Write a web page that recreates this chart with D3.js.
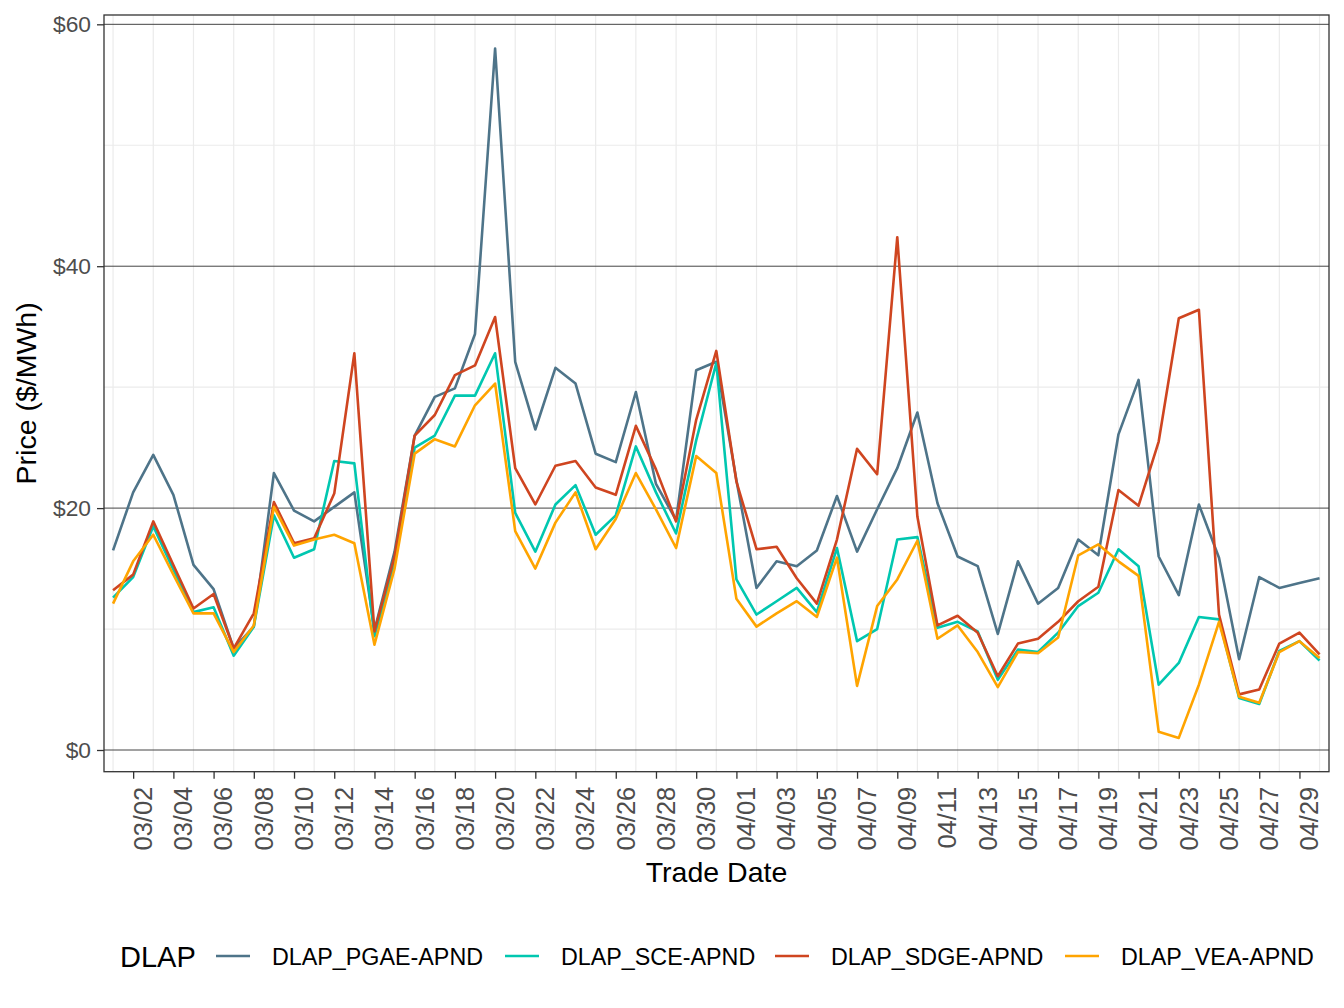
<!DOCTYPE html>
<html><head><meta charset="utf-8">
<script src="https://cdn.jsdelivr.net/npm/d3@7"></script>
<style>
body{margin:0;background:#fff;}
text{font-family:"Liberation Sans",Arial,Helvetica,sans-serif;}
</style>
</head><body>
<svg id="chart" width="1344" height="1008"></svg>
<script>
// ---- data ----
const firstDate = "2020-03-01";
const lastDate = "2020-04-30";
const seriesNames = ["DLAP_PGAE-APND", "DLAP_SCE-APND", "DLAP_SDGE-APND", "DLAP_VEA-APND"];
const seriesColors = ["#4E7489", "#00C7B0", "#CF4520", "#FFA400"];
const pgae = [16.5,21.3,24.4,21.1,15.3,13.3,8.4,10.2,22.9,19.8,18.9,20.1,21.3,9.9,16.4,26.0,29.2,29.9,34.4,58.0,32.1,26.5,31.6,30.3,24.5,23.8,29.6,22.0,19.0,31.4,32.1,22.3,13.4,15.6,15.2,16.5,21.0,16.4,19.9,23.3,27.9,20.4,16.0,15.2,9.6,15.6,12.1,13.4,17.4,16.1,26.1,30.6,16.0,12.8,20.3,15.9,7.5,14.3,13.4,13.8,14.2];
const sce  = [12.6,14.3,18.5,14.9,11.4,11.8,7.8,10.2,19.4,15.9,16.6,23.9,23.7,9.4,15.5,25.0,26.0,29.3,29.3,32.8,19.6,16.4,20.3,21.9,17.8,19.4,25.1,21.3,17.9,25.6,32.0,14.1,11.2,12.3,13.4,11.4,16.7,9.0,10.0,17.4,17.6,10.1,10.6,9.8,5.8,8.3,8.1,9.7,11.9,13.0,16.6,15.2,5.4,7.2,11.0,10.8,4.3,3.8,8.2,9.0,7.4];
const sdge = [13.2,14.5,18.9,15.3,11.7,12.9,8.4,11.3,20.5,17.1,17.5,21.2,32.8,9.8,16.0,26.0,27.7,31.0,31.8,35.8,23.3,20.3,23.5,23.9,21.7,21.1,26.8,23.2,18.9,27.3,33.0,22.2,16.6,16.8,14.2,12.1,17.4,24.9,22.8,42.4,19.3,10.3,11.1,9.7,6.1,8.8,9.2,10.6,12.3,13.5,21.5,20.2,25.5,35.7,36.4,11.2,4.6,5.0,8.8,9.7,7.9];
const vea  = [12.1,15.6,17.8,14.5,11.3,11.3,8.1,10.3,20.1,16.9,17.4,17.8,17.1,8.7,15.0,24.5,25.7,25.1,28.5,30.3,18.1,15.0,18.8,21.3,16.6,19.1,22.9,19.9,16.7,24.3,22.9,12.5,10.2,11.3,12.3,11.0,15.9,5.3,11.9,14.1,17.3,9.2,10.3,8.1,5.2,8.1,8.0,9.3,16.1,17.0,15.6,14.4,1.5,1.0,5.4,10.6,4.4,3.9,8.1,9.0,7.6];
const yTicks = [0, 20, 40, 60];
const yMinor = [10, 30, 50];

// ---- layout ----
const svg = d3.select("#chart");
const P = {l:104, r:1329, t:15, b:771.7};
const d0 = new Date(firstDate + "T00:00:00Z");
const d1 = new Date(lastDate + "T00:00:00Z");
const dates = d3.utcDay.range(d0, d3.utcDay.offset(d1, 1));
const x = d3.scaleUtc()
  .domain([new Date(+d0 - 0.45*864e5), new Date(+d1 + 0.47*864e5)])
  .range([P.l, P.r]);
const y = d3.scaleLinear().domain([-1.794, 60.77]).range([P.b, P.t]);

const tickDates = dates.filter((d,i) => i % 2 === 1);
const gridDates = dates.filter((d,i) => i % 2 === 0);

const g = svg.append("g");
g.selectAll(".vg").data(gridDates).enter().append("line")
  .attr("x1", d=>x(d)).attr("x2", d=>x(d)).attr("y1", P.t).attr("y2", P.b)
  .attr("stroke", "#EBEBEB").attr("stroke-width", 1.2);
g.selectAll(".mg").data(yMinor).enter().append("line")
  .attr("x1", P.l).attr("x2", P.r).attr("y1", d=>y(d)).attr("y2", d=>y(d))
  .attr("stroke", "#EBEBEB").attr("stroke-width", 1.2);
g.selectAll(".hg").data(yTicks).enter().append("line")
  .attr("x1", P.l).attr("x2", P.r).attr("y1", d=>y(d)).attr("y2", d=>y(d))
  .attr("stroke", "#444444").attr("stroke-width", 1);

// lines
const series = [pgae, sce, sdge, vea];
const line = d3.line().x((d,i)=>x(dates[i])).y(d=>y(d));
series.forEach((s, k) => {
  svg.append("path").datum(s).attr("d", line)
    .attr("fill", "none").attr("stroke", seriesColors[k])
    .attr("stroke-width", 2.6).attr("stroke-linejoin", "round").attr("stroke-linecap", "butt");
});

// panel border
svg.append("rect").attr("x", P.l).attr("y", P.t).attr("width", P.r-P.l).attr("height", P.b-P.t)
  .attr("fill", "none").attr("stroke", "#333333").attr("stroke-width", 1.3);

// y axis
const yAxis = svg.append("g").attr("transform", `translate(${P.l},0)`)
  .call(d3.axisLeft(y).tickValues(yTicks).tickSize(7).tickPadding(6).tickFormat(d => "$" + d));
yAxis.select(".domain").remove();
yAxis.selectAll(".tick line").attr("stroke", "#333333").attr("stroke-width", 1.3);
yAxis.selectAll(".tick text").attr("fill", "#4D4D4D").style("font-size", "22.8px")
  .style("font-family", '"Liberation Sans",Arial,sans-serif');

// x axis
const xAxis = svg.append("g").attr("transform", `translate(0,${P.b})`)
  .call(d3.axisBottom(x).tickValues(tickDates).tickSize(7).tickFormat(d3.utcFormat("%m/%d")));
xAxis.select(".domain").remove();
xAxis.selectAll(".tick line").attr("stroke", "#333333").attr("stroke-width", 1.3);
xAxis.selectAll(".tick text")
  .attr("fill", "#4D4D4D").style("font-size", "25.5px")
  .style("font-family", '"Liberation Sans",Arial,sans-serif')
  .attr("text-anchor", "end")
  .attr("transform", "rotate(-90)")
  .attr("x", -15).attr("y", 0).attr("dy", "0.72em");

// axis titles
svg.append("text").attr("x", (P.l+P.r)/2).attr("y", 882).attr("text-anchor", "middle")
  .style("font-size", "28.5px").attr("fill", "#000").text("Trade Date");
svg.append("text").attr("transform", `translate(36,${(P.t+P.b)/2}) rotate(-90)`)
  .attr("text-anchor", "middle").style("font-size", "28.5px").attr("fill", "#000").text("Price ($/MWh)");

// legend
const leg = svg.append("g");
leg.append("text").attr("x", 120).attr("y", 967).style("font-size", "29px").attr("fill", "#000").text("DLAP");
const keyX = [216, 505, 775, 1065];
seriesNames.forEach((n, k) => {
  leg.append("line").attr("x1", keyX[k]).attr("x2", keyX[k]+34).attr("y1", 956).attr("y2", 956)
    .attr("stroke", seriesColors[k]).attr("stroke-width", 2.6);
  leg.append("text").attr("x", keyX[k]+56).attr("y", 964.5).style("font-size", "23.3px")
    .attr("fill", "#000").text(n);
});
</script>
</body></html>
